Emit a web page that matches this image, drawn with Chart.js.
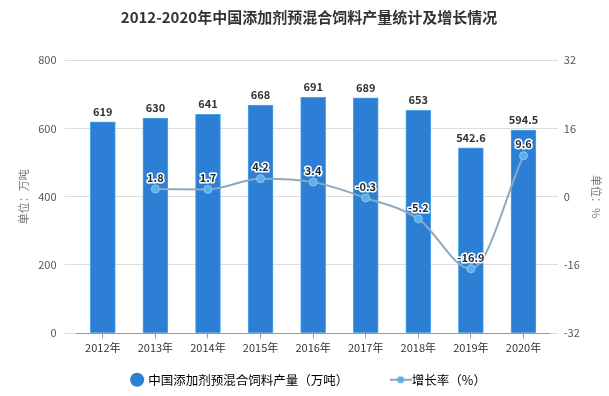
<!DOCTYPE html>
<html>
<head>
<meta charset="utf-8">
<script src="https://cdn.jsdelivr.net/npm/chart.js@4"></script>
<style>
  html, body { margin: 0; padding: 0; background: #fff; }
  #wrap { width: 609px; height: 396px; position: relative; }
</style>
</head>
<body>
<div id="wrap"><canvas id="chart" width="609" height="396"></canvas></div>
<script>
const years = ["2012年", "2013年", "2014年", "2015年", "2016年", "2017年", "2018年", "2019年", "2020年"];
const output = [619, 630, 641, 668, 691, 689, 653, 542.6, 594.5];
const growth = [null, 1.8, 1.7, 4.2, 3.4, -0.3, -5.2, -16.9, 9.6];
const leftTicks = [0, 200, 400, 600, 800];
const rightTicks = [-32, -16, 0, 16, 32];

const FONT = "'Noto Sans CJK SC', 'Noto Sans', sans-serif";

// legend icon for the line: short line with a dot
const lineIcon = document.createElement("canvas");
lineIcon.width = 22;
lineIcon.height = 10;
(function () {
  const c = lineIcon.getContext("2d");
  c.strokeStyle = "#86aac6";
  c.lineWidth = 2;
  c.beginPath();
  c.moveTo(0, 5);
  c.lineTo(22, 5);
  c.stroke();
  c.fillStyle = "#5cb0ea";
  c.beginPath();
  c.arc(11, 5, 3.5, 0, Math.PI * 2);
  c.fill();
})();

// labels above bars and points
const labelPlugin = {
  id: "labels",
  afterDatasetsDraw(chart) {
    const ctx = chart.ctx;
    ctx.save();
    ctx.textAlign = "center";
    ctx.textBaseline = "bottom";
    chart.getDatasetMeta(0).data.forEach((bar, i) => {
      ctx.font = "bold 11px " + FONT;
      ctx.fillStyle = "#333";
      ctx.fillText(String(output[i]), bar.x, bar.y - 5);
    });
    chart.getDatasetMeta(1).data.forEach((pt, i) => {
      if (growth[i] === null) return;
      ctx.font = "bold 11px " + FONT;
      ctx.lineWidth = 3;
      ctx.strokeStyle = "#fff";
      ctx.lineJoin = "round";
      ctx.strokeText(String(growth[i]), pt.x, pt.y - 6);
      ctx.fillStyle = "#1e2a36";
      ctx.fillText(String(growth[i]), pt.x, pt.y - 6);
    });
    ctx.restore();
  }
};

new Chart(document.getElementById("chart"), {
  data: {
    labels: years,
    datasets: [
      {
        type: "bar",
        label: "中国添加剂预混合饲料产量（万吨）",
        data: output,
        yAxisID: "y",
        backgroundColor: "#2d7fd6",
        borderColor: "#4aa6ea",
        borderWidth: 1,
        barThickness: 25,
        order: 2
      },
      {
        type: "line",
        label: "增长率（%）",
        data: growth,
        yAxisID: "y1",
        borderColor: "#8ea8bd",
        borderWidth: 2,
        backgroundColor: "#5cb0ea",
        pointBackgroundColor: "#5cb0ea",
        pointBorderColor: "#8cc8f2",
        pointBorderWidth: 1,
        pointRadius: 4,
        tension: 0.4,
        cubicInterpolationMode: "monotone",
        order: 1
      }
    ]
  },
  options: {
    responsive: false,
    animation: false,
    layout: { padding: { left: 13, right: 4, top: 0, bottom: 0 } },
    plugins: {
      title: {
        display: true,
        text: "2012-2020年中国添加剂预混合饲料产量统计及增长情况",
        color: "#333",
        font: { family: FONT, size: 15, weight: "bold" },
        padding: { top: 8, bottom: 34 }
      },
      legend: {
        position: "bottom",
        labels: {
          color: "#333",
          font: { family: FONT, size: 12.5 },
          usePointStyle: true,
          boxWidth: 10,
          boxHeight: 10,
          padding: 16,
          generateLabels(chart) {
            return [
              { text: "中国添加剂预混合饲料产量（万吨）\u3000\u3000\u3000", fillStyle: "#2d7fd6", strokeStyle: "#2d7fd6", pointStyle: "circle", lineWidth: 0, datasetIndex: 0 },
              { text: "增长率（%）", fillStyle: "#5cb0ea", strokeStyle: "#86aac6", pointStyle: lineIcon, lineWidth: 0, datasetIndex: 1 }
            ];
          }
        }
      },
      tooltip: { enabled: false }
    },
    scales: {
      x: {
        offset: true,
        grid: { offset: false, drawOnChartArea: false, drawTicks: true, tickLength: 5, color: "#999" },
        border: { display: true, color: "#999" },
        ticks: { color: "#333", font: { family: FONT, size: 11 }, padding: 3, maxRotation: 0 }
      },
      y: {
        position: "left",
        min: 0,
        max: 800,
        afterBuildTicks(axis) { axis.ticks = leftTicks.map(v => ({ value: v })); },
        grid: { color: "#ddd", tickLength: 12, drawTicks: true },
        border: { display: false },
        ticks: { color: "#555", font: { family: FONT, size: 11 }, padding: 8 },
        title: { display: true, text: "单位：万吨", color: "#777", font: { family: FONT, size: 11 }, padding: { bottom: 0 } }
      },
      y1: {
        position: "right",
        min: -32,
        max: 32,
        afterBuildTicks(axis) { axis.ticks = rightTicks.map(v => ({ value: v })); },
        grid: { drawOnChartArea: false, color: "#ddd", tickLength: 8, drawTicks: true },
        border: { display: false },
        ticks: { color: "#555", font: { family: FONT, size: 11 }, padding: 6 },
        title: { display: true, text: "单位：%", color: "#777", font: { family: FONT, size: 11 }, padding: { top: 2 } }
      }
    }
  },
  plugins: [labelPlugin]
});
</script>
</body>
</html>
